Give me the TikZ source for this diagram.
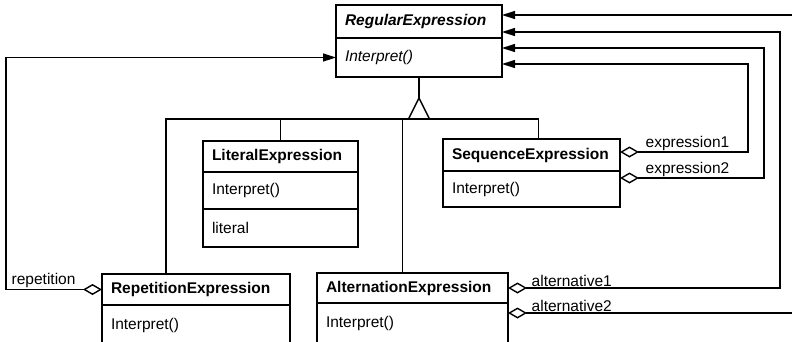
\documentclass[tikz,border=0pt]{standalone}
\usepackage{fontspec}
\setmainfont{Liberation Sans}
\usetikzlibrary{positioning, arrows.meta}

\begin{document}
\begin{tikzpicture}[x=1pt, y=-1pt, line width=1.4pt, font=\fontsize{15.5}{18}\selectfont,
  >={Triangle[length=13pt, width=8pt]},
  head/.style={draw, anchor=north west, align=left, outer sep=0pt, inner xsep=9pt, inner ysep=0pt, text width=#1, font=\fontsize{15.5}{18}\selectfont\bfseries},
  part/.style={draw, below=0pt of #1, align=left, outer sep=0pt, inner xsep=9pt, inner ysep=0pt},
  agg/.style={{Diamond[open, length=19pt, width=11pt]}->},
  lbl/.style={anchor=south west, inner sep=1pt}]
\useasboundingbox (0,0) rectangle (792,341);
\clip (0,0) rectangle (792,341);
% classes
\node[head=148pt, minimum height=33pt] (regname) at (336,5) {\textit{RegularExpression}};
\node[part=regname, text width=148pt, minimum height=39pt] (regops) {\textit{Interpret()}};
\node[head=137pt, minimum height=31pt] (litname) at (203,141) {LiteralExpression};
\node[part=litname, text width=137pt, minimum height=37pt] (litops) {Interpret()};
\node[part=litops, text width=137pt, minimum height=38pt] (litattr) {literal};
\node[head=159pt, minimum height=32pt] (seqname) at (443,139) {SequenceExpression};
\node[part=seqname, text width=159pt, minimum height=36pt] (seqops) {Interpret()};
\node[head=170pt, minimum height=31pt] (repname) at (102,274) {RepetitionExpression};
\node[part=repname, text width=170pt, minimum height=40pt] (repops) {Interpret()};
\node[head=173pt, minimum height=30pt] (altname) at (317,273) {AlternationExpression};
\node[part=altname, text width=173pt, minimum height=40pt] (altops) {Interpret()};
% inheritance
\coordinate (bus) at (0,119);
\coordinate (repup) at ([xshift=-30pt]repname.north);
\coordinate (altup) at ([xshift=-10pt]altname.north);
\coordinate (sequp) at ([xshift=7pt]seqname.north);
\draw (regops.south) -- ++(0,21) coordinate (tip);
\draw (tip) -- ++(-10.5,21); \draw (tip) -- ++(10.5,21);
\draw (repup) -- (repup |- bus) -- (sequp |- bus) -- (sequp);
\draw (litname.north) -- (litname.north |- bus);
\draw (altup) -- (altup |- bus);
% aggregations
\coordinate (in1) at ([yshift=-10pt]regname.north east);
\coordinate (in2) at ([yshift=-27pt]regname.north east);
\coordinate (in3) at ([yshift=-43pt]regname.north east);
\coordinate (in4) at ([yshift=-59pt]regname.north east);
\coordinate (alt1) at (altname.east);
\coordinate (alt2) at ([yshift=-10pt]altops.north east);
\coordinate (expr1) at ([yshift=3pt]seqname.east);
\coordinate (expr2) at ([yshift=-7pt]seqops.north east);
\draw[agg] (alt2) -| ([xshift=294pt]in1) -- (in1);
\draw[agg] (alt1) -| ([xshift=278pt]in2) -- (in2);
\draw[agg] (expr2) -| ([xshift=262pt]in3) -- (in3);
\draw[agg] (expr1) -| ([xshift=246pt]in4) -- (in4);
\draw[agg] (repname.west) -- ++(-96,0) coordinate (repcorner) |- (regops.west);
\node[lbl] (alt1lbl) at ([xshift=22pt]alt1) {alternative1};
\node[lbl] (alt2lbl) at ([xshift=22pt]alt2) {alternative2};
\node[lbl] (expr1lbl) at ([xshift=24pt]expr1) {expression1};
\node[lbl] (expr2lbl) at ([xshift=24pt]expr2) {expression2};
\node[lbl] (replbl) at ([xshift=4pt]repcorner) {repetition};
\end{tikzpicture}
\end{document}
